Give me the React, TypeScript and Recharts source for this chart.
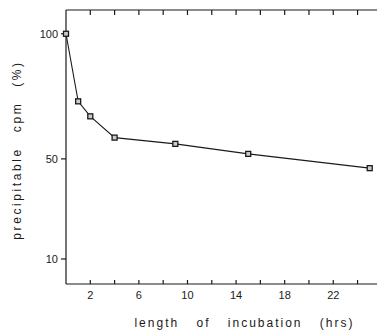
import React from "react"
import { LineChart, Line, XAxis, YAxis, Label } from "recharts"

const hours = [0, 1, 2, 4, 9, 15, 25]
const precipitable = [100, 73, 67, 58.5, 56, 52, 46.3]
const xTicks = [2, 4, 6, 8, 10, 12, 14, 16, 18, 20, 22, 24]
const xLabels = [2, 6, 10, 14, 18, 22]
const yTicks = [10, 50, 100]

const data = hours.map((h, i) => ({ h, v: precipitable[i] }))

const ink = "#1a1a1a"
const font = "'Liberation Sans', Arial, sans-serif"
const xDomain = [0, 25.6]

const SquareDot = (props: any) => {
  const { cx, cy, index } = props
  if (cx == null || cy == null) return null
  return <rect key={index} x={cx - 2.5} y={cy - 2.5} width={5} height={5} fill="#ccc" stroke={ink} strokeWidth={1.3} />
}

const empty = () => <g />

export default function App() {
  return (
    <div style={{ position: "absolute", left: 0, top: 0, background: "#fff" }}>
      <LineChart width={377} height={335} data={data} margin={{ top: 10, right: 0, bottom: 0, left: 0 }}>
        {/* top frame with inward ticks */}
        <XAxis
          xAxisId="top"
          orientation="top"
          mirror
          dataKey="h"
          type="number"
          domain={xDomain}
          ticks={xTicks}
          height={1}
          tickSize={5}
          tick={empty}
          stroke={ink}
          strokeWidth={1.2}
        />
        {/* bottom axis line with inward ticks */}
        <XAxis
          xAxisId="in"
          mirror
          dataKey="h"
          type="number"
          domain={xDomain}
          ticks={xTicks}
          height={1}
          tickSize={4}
          tick={empty}
          stroke={ink}
          strokeWidth={1.2}
        />
        {/* bottom labels */}
        <XAxis
          dataKey="h"
          type="number"
          domain={xDomain}
          ticks={xLabels}
          interval={0}
          height={51}
          axisLine={false}
          tickLine={false}
          tickSize={0}
          tickMargin={7}
          tick={{ fontSize: 11, fill: ink, fontFamily: font }}
        >
          <Label
            content={({ viewBox }: any) => (
              <text
                x={viewBox.x + viewBox.width / 2 + 23}
                y={viewBox.y + 43}
                textAnchor="middle"
                fontSize={12}
                fill={ink}
                fontFamily={font}
                letterSpacing={2}
                wordSpacing={12}
              >
                length of incubation (hrs)
              </text>
            )}
          />
        </XAxis>
        <YAxis
          type="number"
          domain={[0, 109.5]}
          ticks={yTicks}
          width={66}
          tickSize={5}
          tickMargin={3}
          tick={{ fontSize: 11, fill: ink, fontFamily: font }}
          stroke={ink}
          strokeWidth={1.2}
        >
          <Label
            content={({ viewBox }: any) => {
              const cx = 21
              const cy = viewBox.y + viewBox.height / 2 + 3
              return (
                <text
                  x={cx}
                  y={cy}
                  transform={`rotate(-90, ${cx}, ${cy})`}
                  textAnchor="middle"
                  fontSize={12}
                  fill={ink}
                  fontFamily={font}
                  letterSpacing={2.6}
                  wordSpacing={9}
                >
                  precipitable cpm (%)
                </text>
              )
            }}
          />
        </YAxis>
        <Line
          dataKey="v"
          stroke={ink}
          strokeWidth={1.1}
          isAnimationActive={false}
          dot={<SquareDot />}
        />
      </LineChart>
    </div>
  )
}
